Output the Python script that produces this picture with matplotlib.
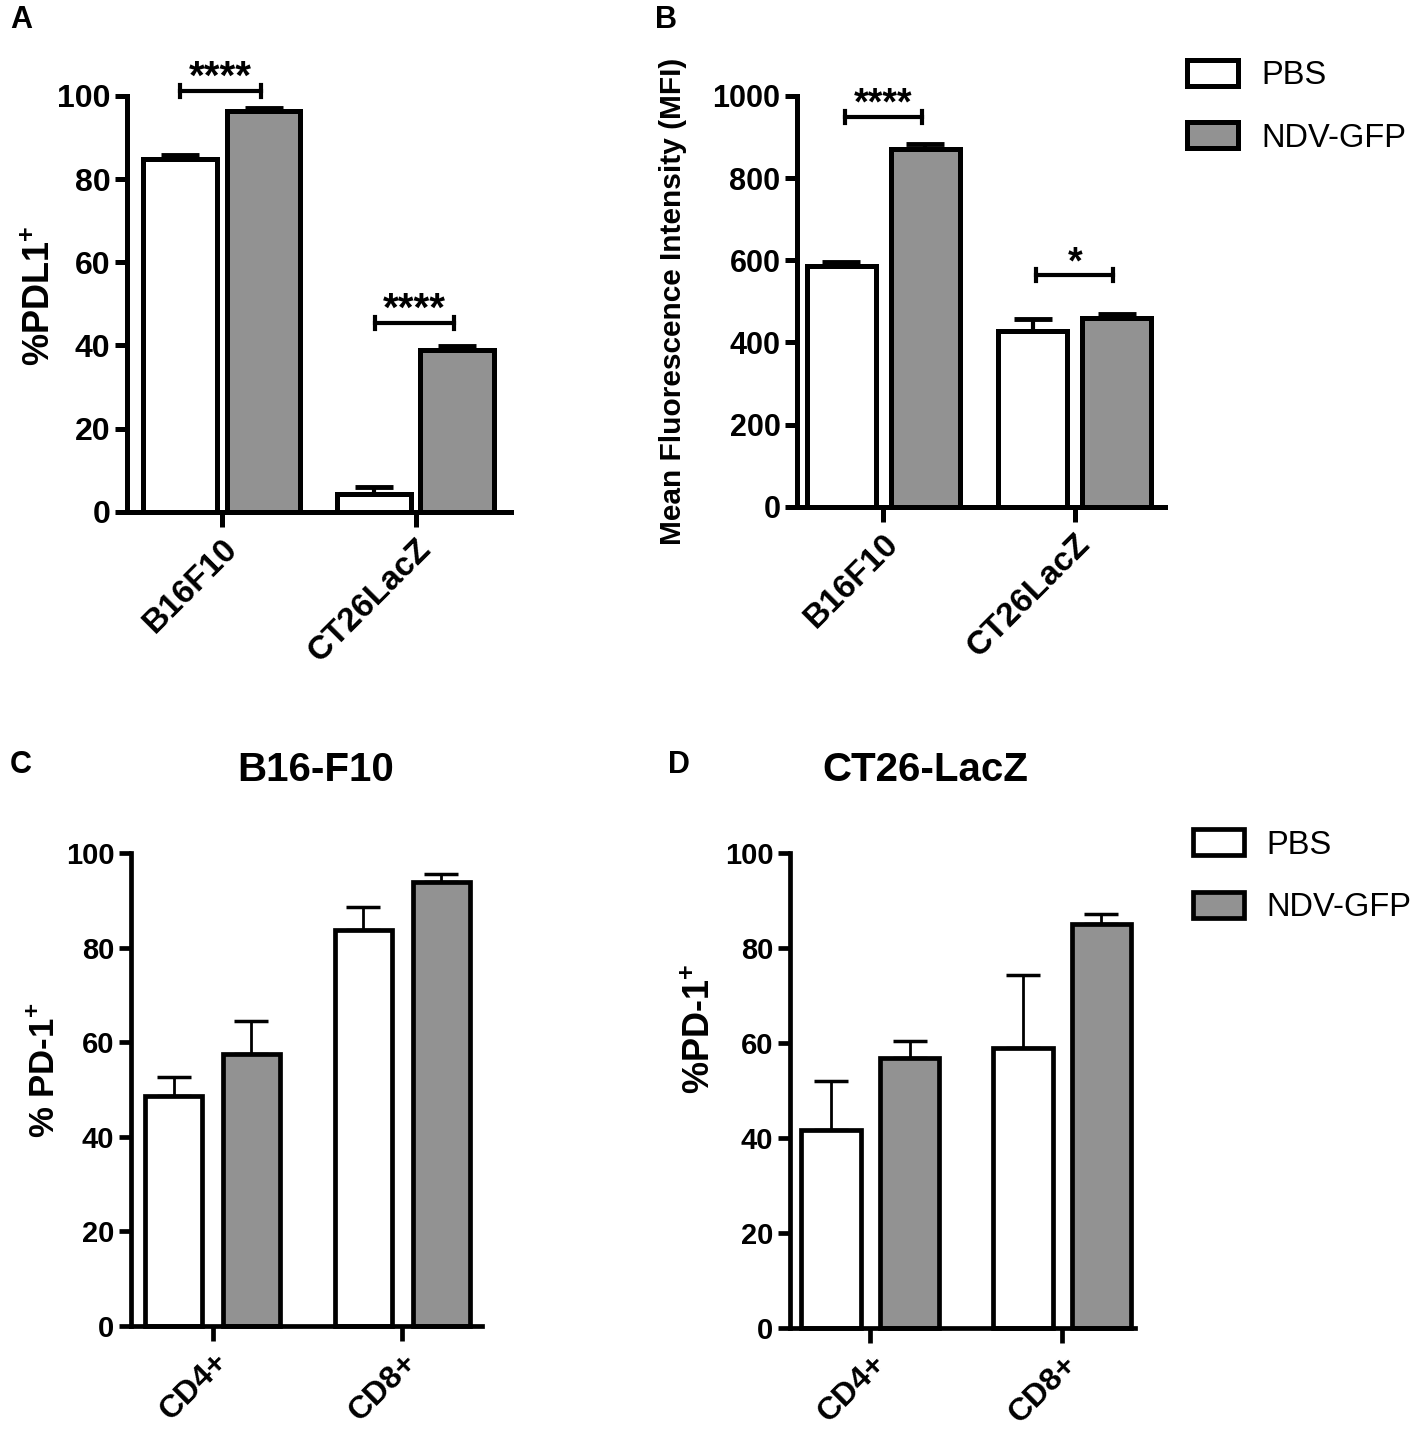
import matplotlib
matplotlib.use("Agg")
import matplotlib.pyplot as plt
import numpy as np

plt.rcParams['font.family'] = ['Liberation Sans', 'DejaVu Sans']
plt.rcParams['font.weight'] = 'bold'
plt.rcParams['mathtext.fontset'] = 'custom'
plt.rcParams['mathtext.rm'] = 'Liberation Sans:bold'
plt.rcParams['mathtext.bf'] = 'Liberation Sans:bold'

# data
groups = ['PBS', 'NDV-GFP']
lines_ab = ['B16F10', 'CT26LacZ']
cells = ['CD4+', 'CD8+']

pdl1_pbs = [84.8, 4.4]
pdl1_pbs_err = [1.0, 1.7]
pdl1_ndv = [96.4, 38.8]
pdl1_ndv_err = [0.6, 1.1]

mfi_pbs = [585, 427]
mfi_pbs_err = [10, 29]
mfi_ndv = [870, 459]
mfi_ndv_err = [12, 10]

b16_pbs = [48.6, 83.7]
b16_pbs_err = [4.0, 4.9]
b16_ndv = [57.5, 93.8]
b16_ndv_err = [7.0, 1.8]

ct26_pbs = [41.6, 59.0]
ct26_pbs_err = [10.3, 15.3]
ct26_ndv = [56.9, 85.0]
ct26_ndv_err = [3.5, 2.1]

GRAY = '#929292'


def draw_panel(ax, labels, pbs, pbs_err, ndv, ndv_err, width, off, lw,
               elw, caps, ymax, step, xlim, tick_fs, xlab_fs):
    x = np.arange(len(labels))
    zeros = np.zeros(len(labels))
    ax.errorbar(x - off, pbs, yerr=[zeros, pbs_err], fmt='none', ecolor='black',
                elinewidth=elw, capsize=caps, capthick=elw + 0.5, zorder=2, clip_on=False)
    ax.errorbar(x + off, ndv, yerr=[zeros, ndv_err], fmt='none', ecolor='black',
                elinewidth=elw, capsize=caps, capthick=elw + 0.5, zorder=2, clip_on=False)
    b1 = ax.bar(x - off, pbs, width, color='white', edgecolor='black', linewidth=lw,
                zorder=3, clip_on=False, label=groups[0])
    b2 = ax.bar(x + off, ndv, width, color=GRAY, edgecolor='black', linewidth=lw,
                zorder=3, clip_on=False, label=groups[1])
    ax.set_ylim(0, ymax)
    ax.set_xlim(*xlim)
    ax.set_yticks(np.arange(0, ymax + 1, step))
    ax.set_xticks(x)
    ax.set_xticklabels(labels, rotation=45, ha='right', va='top',
                       rotation_mode='anchor', fontsize=xlab_fs, fontweight='bold')
    for t in ax.get_xticklabels():
        t.set_x(t.get_position()[0])
    for s in ['top', 'right']:
        ax.spines[s].set_visible(False)
    for s in ['left', 'bottom']:
        ax.spines[s].set_linewidth(lw)
        ax.spines[s].set_zorder(4)
    ax.tick_params(axis='y', width=lw, length=9, labelsize=tick_fs, pad=3)
    ax.tick_params(axis='x', width=lw, length=11, pad=4)
    for t in ax.get_yticklabels():
        t.set_fontweight('bold')
    return b1, b2


def bracket(ax, x1, x2, y, tick, stars, dy, fs):
    ax.plot([x1, x2], [y, y], color='black', lw=3, clip_on=False, zorder=5)
    for xx in (x1, x2):
        ax.plot([xx, xx], [y - tick, y + tick], color='black', lw=3,
                clip_on=False, zorder=5)
    ax.text((x1 + x2) / 2, y + dy, stars, ha='center', va='bottom',
            fontsize=fs, fontweight='bold', clip_on=False)


fig = plt.figure(figsize=(14.17, 14.30), dpi=100)

axA = fig.add_axes([0.0896, 0.642, 0.2707, 0.291])
axB = fig.add_axes([0.5625, 0.6455, 0.2595, 0.2875])
axC = fig.add_axes([0.0924, 0.0727, 0.2477, 0.3308])
axD = fig.add_axes([0.5575, 0.0713, 0.2435, 0.3322])

draw_panel(axA, lines_ab, pdl1_pbs, pdl1_pbs_err, pdl1_ndv, pdl1_ndv_err,
           0.38, 0.215, 3.6, 3, 14, 100, 20, (-0.49, 1.49), 23, 24)
hB = draw_panel(axB, lines_ab, mfi_pbs, mfi_pbs_err, mfi_ndv, mfi_ndv_err,
                0.36, 0.22, 3.6, 3, 14, 1000, 200, (-0.45, 1.47), 22, 24)
draw_panel(axC, cells, b16_pbs, b16_pbs_err, b16_ndv, b16_ndv_err,
           0.30, 0.205, 3.4, 2, 12, 100, 20, (-0.43, 1.42), 21, 23)
hD = draw_panel(axD, cells, ct26_pbs, ct26_pbs_err, ct26_ndv, ct26_ndv_err,
                0.31, 0.205, 3.4, 2, 12, 100, 20, (-0.42, 1.38), 21, 23)

# significance brackets
bracket(axA, -0.215, 0.2, 101.2, 1.5, '****', -1.5, 29)
bracket(axA, 0.79, 1.2, 45.4, 1.5, '****', -1.5, 29)
bracket(axB, -0.2, 0.2, 949, 15, '****', -15, 27)
bracket(axB, 0.8, 1.2, 564, 15, '*', -15, 27)

axA.set_ylabel('%PDL1$^{+}$', fontsize=26, fontweight='bold')
axA.yaxis.set_label_coords(-0.18, 0.52)
axB.set_ylabel('Mean Fluorescence Intensity (MFI)', fontsize=21.5, fontweight='bold')
axB.yaxis.set_label_coords(-0.30, 0.5)
axC.set_ylabel('% PD-1$^{+}$', fontsize=25, fontweight='bold')
axC.yaxis.set_label_coords(-0.197, 0.54)
axD.set_ylabel('%PD-1$^{+}$', fontsize=26, fontweight='bold')
axD.yaxis.set_label_coords(-0.21, 0.63)

leg_prop = {'family': 'Liberation Sans', 'weight': 'normal', 'size': 23.5}
axB.legend(hB, groups, loc='upper left', bbox_to_anchor=(0.838, 0.958),
           bbox_transform=fig.transFigure, frameon=False, prop=leg_prop,
           handlelength=1.55, handleheight=0.85, handletextpad=0.7,
           labelspacing=0.95, borderpad=0, borderaxespad=0)
axD.legend(hD, groups, loc='upper left', bbox_to_anchor=(0.842, 0.42),
           bbox_transform=fig.transFigure, frameon=False, prop=leg_prop,
           handlelength=1.55, handleheight=0.85, handletextpad=0.7,
           labelspacing=0.95, borderpad=0, borderaxespad=0)

fig.text(316 / 1417, 1 - 770 / 1430, 'B16-F10', ha='center', va='center',
         fontsize=29, fontweight='bold')
fig.text(925 / 1417, 1 - 770 / 1430, 'CT26-LacZ', ha='center', va='center',
         fontsize=29, fontweight='bold')

for lab, xx, yy in [('A', 10, 20), ('B', 655, 20), ('C', 10, 765), ('D', 668, 765)]:
    fig.text(xx / 1417, 1 - yy / 1430, lab, ha='left', va='center',
             fontsize=22, fontweight='bold')

fig.savefig('out.png', dpi=100)
